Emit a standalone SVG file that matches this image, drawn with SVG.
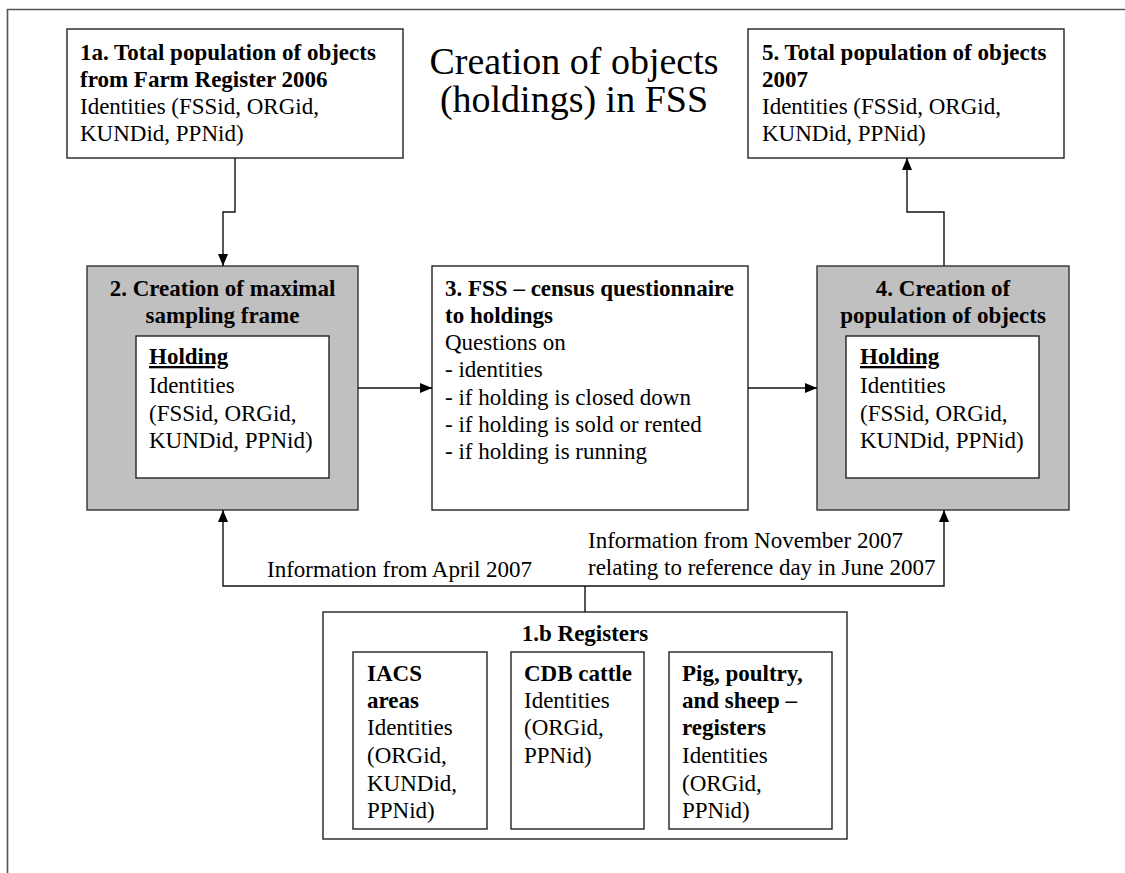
<svg xmlns="http://www.w3.org/2000/svg" width="1125" height="873" viewBox="0 0 1125 873">
<defs>
<style>
text{font-family:"Liberation Serif","Times New Roman",serif;font-size:23px;fill:#000}
.b{font-weight:bold}
.u{text-decoration:underline}
.mid{text-anchor:middle}
.title{font-size:38px}
.box{fill:#fff;stroke:#222;stroke-width:1.4}
.grey{fill:#c0c0c0;stroke:#333;stroke-width:1.4}
.conn{fill:none;stroke:#111;stroke-width:1.4}
</style>
<marker id="ah" viewBox="0 0 12 12" refX="12" refY="6" markerWidth="12" markerHeight="12" markerUnits="userSpaceOnUse" orient="auto">
<path d="M0,1 L12,6 L0,11 Z" fill="#000"/>
</marker>
</defs>
<rect width="1125" height="873" fill="#fff"/>
<path d="M7.5,873 V9.5 H1125" fill="none" stroke="#555" stroke-width="1.6"/>

<g id="title">
<text class="title mid" x="574" y="74">Creation of objects</text>
<text class="title mid" x="574" y="112">(holdings) in FSS</text>
</g>

<g id="node1a">
<rect class="box" x="67" y="29" width="336" height="129"/>
<text class="b" x="80" y="60">1a. Total population of objects</text>
<text class="b" x="80" y="87">from Farm Register 2006</text>
<text x="80" y="114">Identities (FSSid, ORGid,</text>
<text x="80" y="141">KUNDid, PPNid)</text>
</g>

<g id="node5">
<rect class="box" x="748" y="29" width="316" height="129"/>
<text class="b" x="762" y="60">5. Total population of objects</text>
<text class="b" x="762" y="87">2007</text>
<text x="762" y="114">Identities (FSSid, ORGid,</text>
<text x="762" y="141">KUNDid, PPNid)</text>
</g>

<g id="node2">
<rect class="grey" x="87" y="266" width="271" height="244"/>
<text class="b mid" x="222.5" y="296">2. Creation of maximal</text>
<text class="b mid" x="222.5" y="323">sampling frame</text>
<rect class="box" x="136" y="336" width="193" height="142"/>
<text class="b u" x="149" y="364">Holding</text>
<text x="149" y="393">Identities</text>
<text x="149" y="421">(FSSid, ORGid,</text>
<text x="149" y="448">KUNDid, PPNid)</text>
</g>

<g id="node3">
<rect class="box" x="432" y="266" width="316" height="244"/>
<text class="b" x="445" y="296">3. FSS – census questionnaire</text>
<text class="b" x="445" y="323">to holdings</text>
<text x="445" y="350">Questions on</text>
<text x="445" y="377">- identities</text>
<text x="445" y="405">- if holding is closed down</text>
<text x="445" y="432">- if holding is sold or rented</text>
<text x="445" y="459">- if holding is running</text>
</g>

<g id="node4">
<rect class="grey" x="817" y="266" width="252" height="244"/>
<text class="b mid" x="943" y="296">4. Creation of</text>
<text class="b mid" x="943" y="323">population of objects</text>
<rect class="box" x="846" y="336" width="193" height="142"/>
<text class="b u" x="860" y="364">Holding</text>
<text x="860" y="393">Identities</text>
<text x="860" y="421">(FSSid, ORGid,</text>
<text x="860" y="448">KUNDid, PPNid)</text>
</g>

<g id="node1b">
<rect class="box" x="323" y="612" width="524" height="227"/>
<text class="b mid" x="585" y="641">1.b Registers</text>
<rect class="box" x="353" y="652" width="134" height="177"/>
<text class="b" x="367" y="681">IACS</text>
<text class="b" x="367" y="708">areas</text>
<text x="367" y="735">Identities</text>
<text x="367" y="763">(ORGid,</text>
<text x="367" y="791">KUNDid,</text>
<text x="367" y="818">PPNid)</text>
<rect class="box" x="511" y="652" width="133" height="177"/>
<text class="b" x="524" y="681">CDB cattle</text>
<text x="524" y="708">Identities</text>
<text x="524" y="735">(ORGid,</text>
<text x="524" y="763">PPNid)</text>
<rect class="box" x="669" y="652" width="163" height="177"/>
<text class="b" x="682" y="681">Pig, poultry,</text>
<text class="b" x="682" y="708">and sheep –</text>
<text class="b" x="682" y="735">registers</text>
<text x="682" y="763">Identities</text>
<text x="682" y="791">(ORGid,</text>
<text x="682" y="818">PPNid)</text>
</g>

<g id="connectors">
<path class="conn" d="M235,158 V212 H223 V266" marker-end="url(#ah)"/>
<path class="conn" d="M358,388 H432" marker-end="url(#ah)"/>
<path class="conn" d="M748,388 H817" marker-end="url(#ah)"/>
<path class="conn" d="M944,266 V212 H907 V158" marker-end="url(#ah)"/>
<path class="conn" d="M585,612 V586"/>
<path class="conn" d="M585,586 H223 V510" marker-end="url(#ah)"/>
<path class="conn" d="M585,586 H944 V510" marker-end="url(#ah)"/>
<text x="267" y="577">Information from April 2007</text>
<text x="588" y="548">Information from November 2007</text>
<text x="588" y="575">relating to reference day in June 2007</text>
</g>
</svg>
